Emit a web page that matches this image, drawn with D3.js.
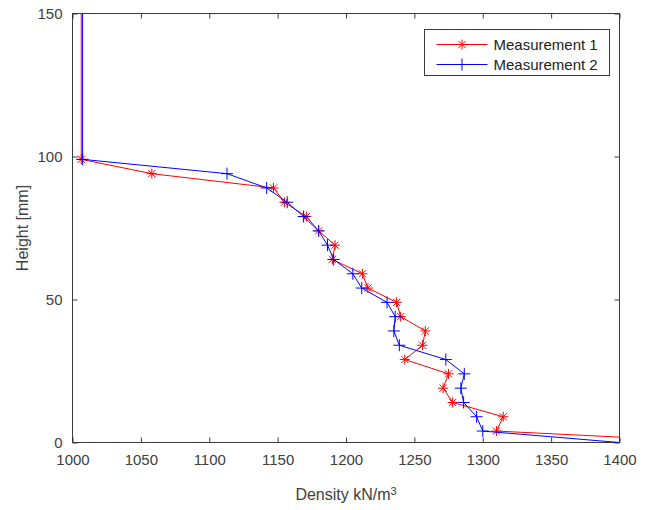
<!DOCTYPE html>
<html>
<head>
<meta charset="utf-8">
<script src="https://cdn.jsdelivr.net/npm/d3@7"></script>
<style>
  body { margin: 0; background: #fff; }
  text { font-family: "Liberation Sans", Arial, sans-serif; }
</style>
</head>
<body>
<div id="chart"></div>
<script>
(function (d3) {
    'use strict';

    // Data (height in mm, density in kN/m3).
    // The first and last points sit outside the axes and get clipped.
    var heights1 = [155, 99, 94, 89, 84, 79, 74, 69, 64, 59, 54, 49, 44, 39, 34, 29, 24, 19, 14, 9, 4, 0];
    var density1 = [1006.4, 1006.4, 1058, 1147, 1155, 1171, 1180, 1192, 1190, 1212, 1216, 1237, 1240, 1258, 1256, 1243, 1275, 1271, 1278, 1315, 1310, 1480];

    var heights2 = [155, 99, 94, 89, 84, 79, 74, 69, 64, 59, 54, 49, 44, 39, 34, 29, 24, 19, 14, 9, 4, 0];
    var density2 = [1007.4, 1007.4, 1113, 1142, 1157, 1169, 1180, 1186.5, 1191, 1205, 1211.5, 1230, 1236, 1235, 1239, 1273, 1286.5, 1284, 1286, 1295.5, 1300, 1400];

    var seriesNames = ['Measurement 1', 'Measurement 2'];
    var xTicks = [1000, 1050, 1100, 1150, 1200, 1250, 1300, 1350, 1400];
    var yTicks = [0, 50, 100, 150];

    var width = 646;
    var height = 510;
    var margin = {top: 13.5, right: 26.5, bottom: 67.5, left: 72.5};
    var w = width - margin.left - margin.right;
    var h = height - margin.top - margin.bottom;

    var axisColor = '#3a3a3a';
    var textColor = '#404040';

    var x = d3.scaleLinear().domain([1000, 1400]).range([0, w]);
    var y = d3.scaleLinear().domain([0, 150]).range([h, 0]);

    var svg = d3.select('#chart').append('svg')
        .attr('width', width)
        .attr('height', height);

    svg.append('rect')
        .attr('width', width)
        .attr('height', height)
        .attr('fill', '#fff');

    svg.append('defs').append('clipPath')
        .attr('id', 'plot-clip')
      .append('rect')
        .attr('width', w)
        .attr('height', h);

    var vis = svg.append('g')
        .attr('transform', 'translate(' + margin.left + ',' + margin.top + ')');

    // Axes, ticks point inward like MATLAB.
    function styleAxis(g, hideText) {
        g.select('.domain').remove();
        g.selectAll('.tick line').attr('stroke', axisColor);
        g.selectAll('.tick text')
            .attr('fill', textColor)
            .style('font-size', '15px')
            .style('font-family', '"Liberation Sans", Arial, sans-serif');
        if (hideText) {
            g.selectAll('.tick text').remove();
        }
    }

    vis.append('g')
        .attr('transform', 'translate(0,' + h + ')')
        .call(d3.axisBottom(x).tickValues(xTicks).tickSizeInner(-5).tickSizeOuter(0).tickPadding(12).tickFormat(d3.format('d')))
        .call(styleAxis, false);

    vis.append('g')
        .call(d3.axisTop(x).tickValues(xTicks).tickSizeInner(-5).tickSizeOuter(0))
        .call(styleAxis, true);

    vis.append('g')
        .call(d3.axisLeft(y).tickValues(yTicks).tickSizeInner(-5).tickSizeOuter(0).tickPadding(10).tickFormat(d3.format('d')))
        .call(styleAxis, false);

    vis.append('g')
        .attr('transform', 'translate(' + w + ',0)')
        .call(d3.axisRight(y).tickValues(yTicks).tickSizeInner(-5).tickSizeOuter(0))
        .call(styleAxis, true);

    vis.append('rect')
        .attr('width', w)
        .attr('height', h)
        .attr('fill', 'none')
        .attr('stroke', axisColor)
        .attr('stroke-width', 1);

    // Lines and markers.
    var plot = vis.append('g').attr('clip-path', 'url(#plot-clip)');

    var line = d3.line()
        .x(function (d) { return x(d[0]); })
        .y(function (d) { return y(d[1]); });

    var pts1 = d3.zip(density1, heights1);
    var pts2 = d3.zip(density2, heights2);

    function starPath(s) {
        var k = s * 0.72;
        return 'M0,' + (-s) + 'V' + s + 'M' + (-s) + ',0H' + s +
            'M' + (-k) + ',' + (-k) + 'L' + k + ',' + k +
            'M' + (-k) + ',' + k + 'L' + k + ',' + (-k);
    }

    function plusPath(s) {
        return 'M0,' + (-s) + 'V' + s + 'M' + (-s) + ',0H' + s;
    }

    plot.append('path')
        .datum(pts1)
        .attr('fill', 'none')
        .attr('stroke', 'red')
        .attr('stroke-width', 1)
        .attr('d', line);

    plot.selectAll('.m1')
        .data(pts1)
        .enter().append('path')
        .attr('class', 'm1')
        .attr('transform', function (d) { return 'translate(' + x(d[0]) + ',' + y(d[1]) + ')'; })
        .attr('d', starPath(5))
        .attr('fill', 'none')
        .attr('stroke', 'red')
        .attr('stroke-width', 1);

    plot.append('path')
        .datum(pts2)
        .attr('fill', 'none')
        .attr('stroke', 'blue')
        .attr('stroke-width', 1)
        .attr('d', line);

    plot.selectAll('.m2')
        .data(pts2)
        .enter().append('path')
        .attr('class', 'm2')
        .attr('transform', function (d) { return 'translate(' + x(d[0]) + ',' + y(d[1]) + ')'; })
        .attr('d', plusPath(6))
        .attr('fill', 'none')
        .attr('stroke', 'blue')
        .attr('stroke-width', 1);

    // Axis labels.
    var xLabel = svg.append('text')
        .attr('x', margin.left + w / 2)
        .attr('y', 500)
        .attr('text-anchor', 'middle')
        .attr('fill', textColor)
        .style('font-size', '16px')
        .text('Density kN/m');
    xLabel.append('tspan')
        .attr('dy', '-0.45em')
        .style('font-size', '11px')
        .text('3');

    svg.append('text')
        .attr('transform', 'translate(28,' + (margin.top + h / 2) + ') rotate(-90)')
        .attr('text-anchor', 'middle')
        .attr('fill', textColor)
        .style('font-size', '16px')
        .text('Height [mm]');

    // Legend.
    var legend = svg.append('g').attr('transform', 'translate(424.5,29.5)');

    legend.append('rect')
        .attr('width', 185)
        .attr('height', 46)
        .attr('fill', '#fff')
        .attr('stroke', axisColor)
        .attr('stroke-width', 1);

    var colors = ['red', 'blue'];
    var markers = [starPath(5), plusPath(6)];

    seriesNames.forEach(function (name, i) {
        var row = legend.append('g').attr('transform', 'translate(0,' + (15 + i * 20) + ')');
        row.append('line')
            .attr('x1', 12).attr('x2', 63)
            .attr('stroke', colors[i])
            .attr('stroke-width', 1);
        row.append('path')
            .attr('transform', 'translate(37.5,0)')
            .attr('d', markers[i])
            .attr('fill', 'none')
            .attr('stroke', colors[i]);
        row.append('text')
            .attr('x', 69)
            .attr('dy', '0.35em')
            .attr('fill', '#222')
            .style('font-size', '15px')
            .text(name);
    });

})(d3);
</script>
</body>
</html>
